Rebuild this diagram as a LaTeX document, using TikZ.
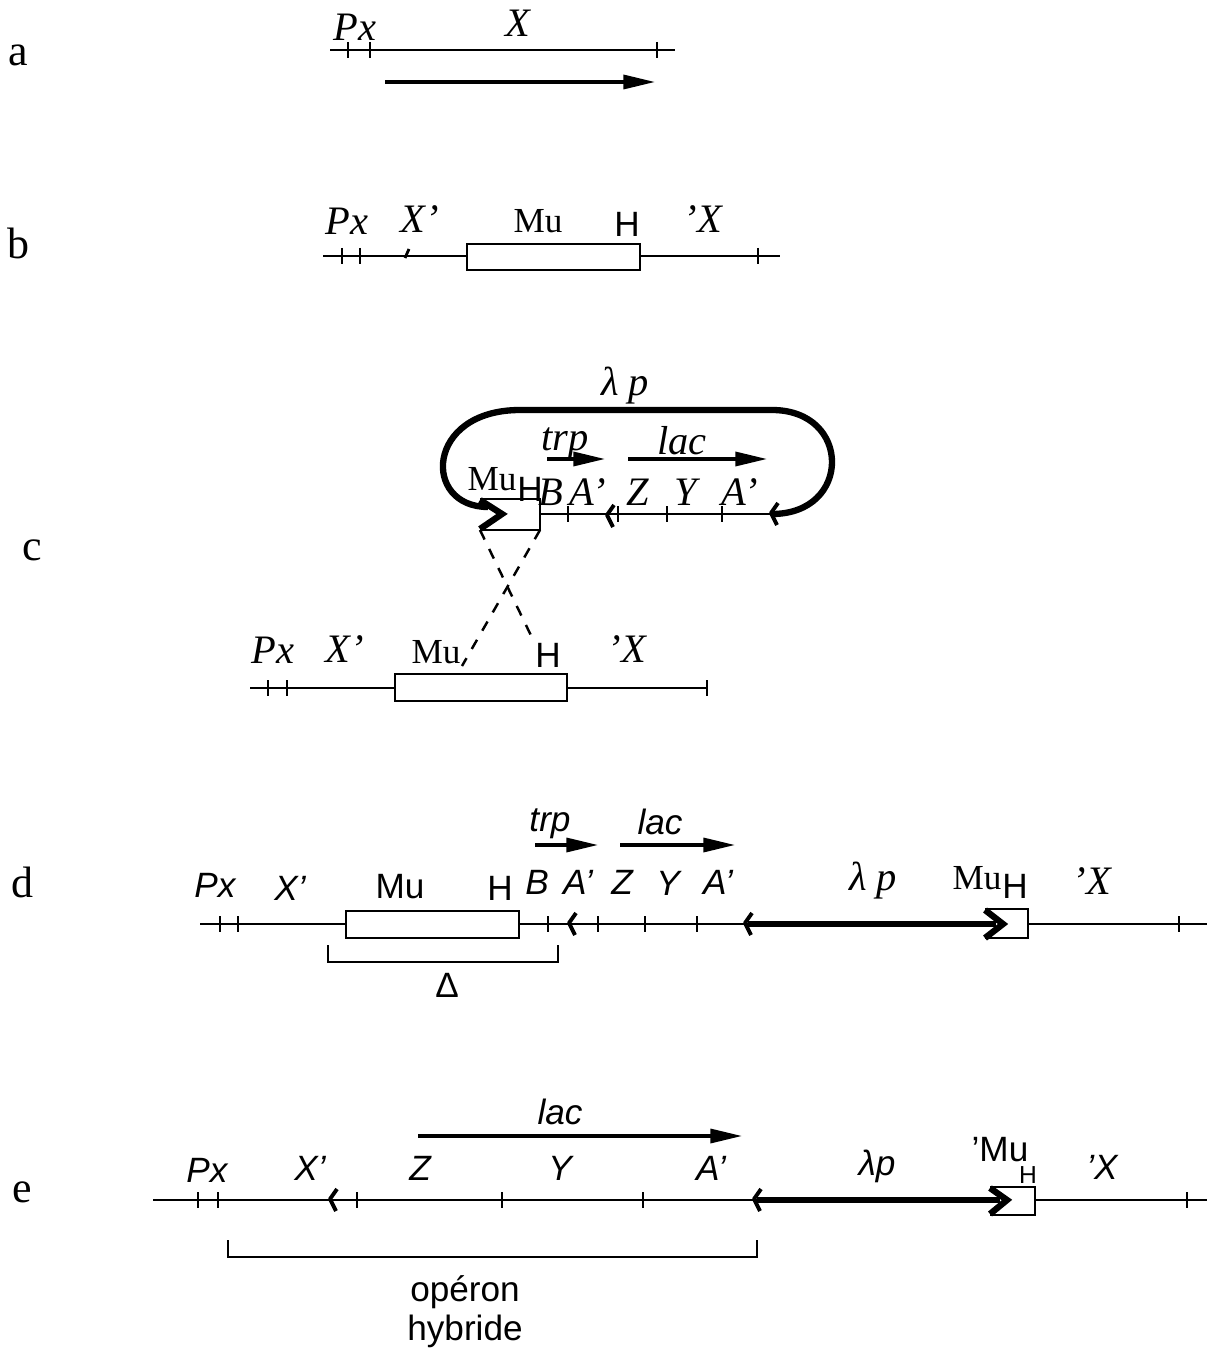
\documentclass[tikz,border=0pt]{standalone}
\usepackage{fontspec}
\setmainfont{Liberation Serif}
\setsansfont{Liberation Sans}
\usetikzlibrary{arrows.meta}
\newcommand{\gtick}[2]{\draw[line width=.8pt] (#1,#2-8) -- (#1,#2+8);}
\newcommand{\cutmark}[2]{\draw[line width=1.1pt, line join=round] (#1+4,#2-11) -- (#1-3,#2-1) -- (#1+3,#2+11);}

\begin{document}
\begin{tikzpicture}[x=0.01cm, y=-0.01cm, line width=.8pt,
  lbl/.style={font=\fontsize{12.5}{14}\selectfont, inner sep=0pt},
  sgene/.style={font=\fontsize{11.5}{13}\selectfont\itshape, inner sep=0pt},
  srm/.style={font=\fontsize{10}{12}\selectfont, inner sep=0pt},
  hgene/.style={font=\fontsize{10}{12}\selectfont\sffamily\itshape, inner sep=0pt},
  hrm/.style={font=\fontsize{10}{12}\selectfont\sffamily, inner sep=0pt},
  tx/.style={-{Triangle[length=9pt,width=4pt]}, line width=.9pt},
  lam/.style={line width=1.8pt, line join=miter}]
\useasboundingbox (0,0) rectangle (1207,1352);
\def\ya{50}\def\yb{256}\def\yc{514}\def\ycc{688}\def\yd{924}\def\ye{1200}

% a
\node[lbl] (a) at (18,55) {a};
\draw (330,\ya) -- (675,\ya);
\gtick{348}{\ya}\gtick{370}{\ya}\gtick{657}{\ya}
\node[sgene] (a-px) at (355,27) {Px};
\node[sgene] (a-x) at (518,23) {X};
\draw[tx] (385,82) -- (655,82);

% b
\node[lbl] (b) at (18,243) {b};
\draw (323,\yb) -- (467,\yb);
\draw (640,\yb) -- (780,\yb);
\gtick{342}{\yb}\gtick{360}{\yb}\gtick{758}{\yb}
\draw (405,\yb+2) -- (409,\yb-7);
\draw (467,244) rectangle (640,270);
\node[sgene] (b-px) at (347,221) {Px};
\node[sgene] (b-x1) at (420,219) {X'};
\node[srm] (b-mu) at (538,221) {Mu};
\node[hrm] (b-h) at (627,224) {H};
\node[sgene] (b-x2) at (703,219) {'X};

% c, the lambda p loop
\node[lbl] (c) at (32,550) {c};
\node[sgene] (c-lam) at (625,386) {λ p};
\draw[lam] (772,\yc) .. controls (852,\yc) and (852,410) .. (772,410)
  -- (520,410) .. controls (425,410) and (422,507) .. (488,507);
\draw[lam] (480,500) -- (502,\yc) -- (480,529);
\draw (480,499) -- (540,499) -- (540,530) -- (480,530);
\draw (540,\yc) -- (772,\yc);
\gtick{568}{\yc}\gtick{618}{\yc}\gtick{667}{\yc}\gtick{722}{\yc}
\cutmark{610}{\yc+2}\cutmark{774}{\yc}
\node[srm] (c-mu1) at (492,479) {Mu};
\node[hrm] (c-h1) at (530,489) {H};
\node[sgene] (c-trp) at (565,443) {trp};
\draw[tx] (547,459) -- (605,459);
\node[sgene] (c-lac) at (682,441) {lac};
\draw[tx] (628,459) -- (767,459);
\node[sgene] (c-b) at (551,492) {B};
\node[sgene] (c-a1) at (588,492) {A'};
\node[sgene] (c-z) at (638,492) {Z};
\node[sgene] (c-y) at (686,492) {Y};
\node[sgene] (c-a2) at (740,492) {A'};

% c, chromosome
\draw (250,\ycc) -- (395,\ycc);
\draw (567,\ycc) -- (707,\ycc);
\gtick{268}{\ycc}\gtick{287}{\ycc}\gtick{707}{\ycc}
\draw (395,674) rectangle (567,701);
\node[sgene] (c-px) at (273,650) {Px};
\node[sgene] (c-x1) at (345,649) {X'};
\node[srm] (c-mu2) at (436,652) {Mu};
\node[hrm] (c-h2) at (548,655) {H};
\node[sgene] (c-x2) at (627,649) {'X};
\coordinate (c-bl) at (480,530);
\coordinate (c-br) at (540,530);
\coordinate (c-muend) at (462,666);
\draw[dashed, line width=.7pt] (c-bl) -- (c-h2.north west);
\draw[dashed, line width=.7pt] (c-br) -- (c-muend);

% d
\node[lbl] (d) at (22,882) {d};
\draw (200,\yd) -- (346,\yd);
\draw (519,\yd) -- (748,\yd);
\draw (1028,\yd) -- (1207,\yd);
\gtick{220}{\yd}\gtick{238}{\yd}\gtick{548}{\yd}
\gtick{598}{\yd}\gtick{645}{\yd}\gtick{697}{\yd}\gtick{1179}{\yd}
\cutmark{572}{\yd}\cutmark{748}{\yd}
\draw (346,911) rectangle (519,938);
\draw[lam] (748,\yd) -- (996,\yd);
\draw (985,909) -- (1028,909) -- (1028,938) -- (985,938);
\draw[lam] (985,910) -- (1003,\yd) -- (985,938);
\node[hgene] (d-px) at (215,885) {Px};
\node[hgene] (d-x1) at (290,888) {X'};
\node[hrm] (d-mu1) at (400,887) {Mu};
\node[hrm] (d-h1) at (500,888) {H};
\node[hgene] (d-b) at (537,882) {B};
\node[hgene] (d-a1) at (578,882) {A'};
\node[hgene] (d-z) at (622,882) {Z};
\node[hgene] (d-y) at (668,883) {Y};
\node[hgene] (d-a2) at (718,882) {A'};
\node[hgene] (d-trp) at (550,824) {trp};
\draw[tx] (535,845) -- (598,845);
\node[hgene] (d-lac) at (660,822) {lac};
\draw[tx] (620,845) -- (735,845);
\node[sgene] (d-lam) at (873,881) {λ p};
\node[srm] (d-mu2) at (977,878) {Mu};
\node[hrm] (d-h2) at (1015,886) {H};
\node[sgene] (d-x2) at (1092,881) {'X};
\draw (328,945) -- (328,962) -- (558,962) -- (558,945);
\node[hrm] (d-delta) at (447,985) {Δ};

% e
\node[lbl] (e) at (22,1192) {e};
\draw (153,\ye) -- (757,\ye);
\draw (1035,\ye) -- (1207,\ye);
\gtick{198}{\ye}\gtick{218}{\ye}\gtick{357}{\ye}\gtick{502}{\ye}
\gtick{643}{\ye}\gtick{1187}{\ye}
\cutmark{333}{\ye}\cutmark{757}{\ye}
\draw[lam] (757,\ye) -- (1000,\ye);
\draw (990,1187) -- (1035,1187) -- (1035,1215) -- (990,1215);
\draw[lam] (990,1188) -- (1007,\ye) -- (990,1214);
\node[hgene] (e-px) at (207,1170) {Px};
\node[hgene] (e-x1) at (310,1168) {X'};
\node[hgene] (e-z) at (420,1168) {Z};
\node[hgene] (e-y) at (560,1168) {Y};
\node[hgene] (e-a) at (711,1168) {A'};
\node[hgene] (e-lac) at (560,1112) {lac};
\draw[tx] (418,1136) -- (742,1136);
\node[hgene] (e-lam) at (877,1166) {λp};
\node[hrm] (e-mu) at (1000,1150) {'Mu};
\node[hrm, font=\fontsize{7}{8}\selectfont\sffamily] (e-h) at (1028,1175) {H};
\node[hgene] (e-x2) at (1102,1167) {'X};
\draw (228,1240) -- (228,1257) -- (757,1257) -- (757,1240);
\node[hrm, align=center] (e-op) at (465,1312) {opéron\\[-1pt]hybride};
\end{tikzpicture}
\end{document}
